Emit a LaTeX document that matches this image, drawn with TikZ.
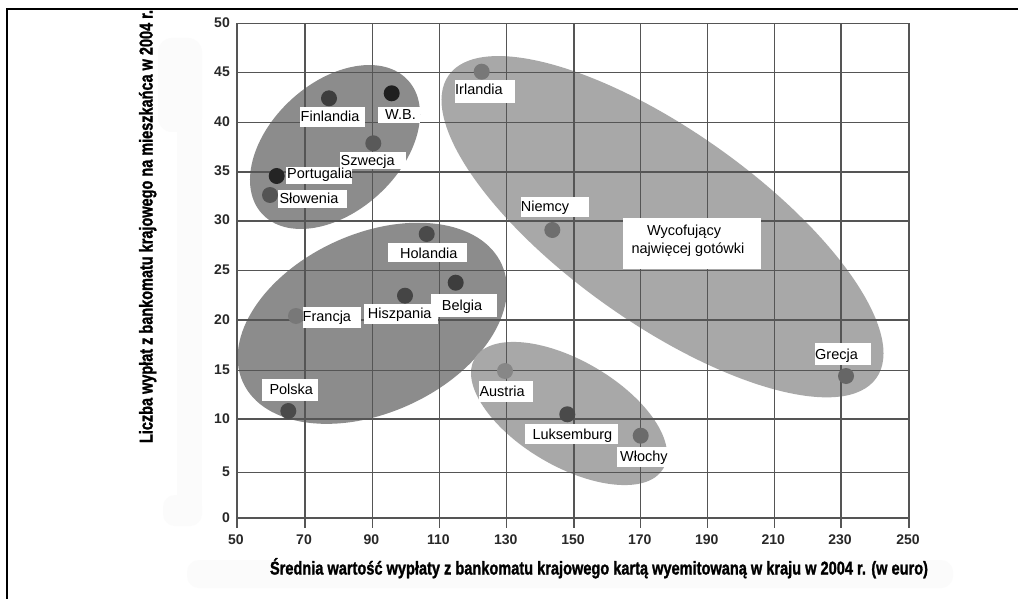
\documentclass[tikz,border=0pt]{standalone}
\usepackage{fontspec}
\setmainfont{Liberation Sans}
\newfontfamily\titlefont[FakeBold=1.6]{Liberation Sans Bold}
\usepackage{graphicx}
\definecolor{darkgrp}{RGB}{140,140,140}
\definecolor{lightgrp}{RGB}{168,168,168}
\definecolor{gridc}{RGB}{85,85,85}
\definecolor{tickc}{RGB}{40,40,40}
\definecolor{haze}{RGB}{251,251,251}
% white label box with its text set from the given base point
\newcommand\countrylabel[8]{%
  \fill[lbox] (#2,#3) rectangle (#4,#5);
  \node[ltxt] (#1) at (#6,#7) {#8};}
\begin{document}
\begin{tikzpicture}[x=1pt,y=-1pt,
  gridline/.style={draw=gridc, line width=1.3pt},
  dot/.style={circle, fill=#1, minimum size=16pt, inner sep=0pt},
  lbox/.style={fill=white},
  ltxt/.style={anchor=base west, inner sep=0pt, font=\fontsize{14.5}{16}\selectfont},
  tick/.style={inner sep=0pt, font=\fontsize{14}{14}\selectfont\bfseries, text=tickc},
  axtitle/.style={inner sep=0pt, font=\fontsize{18.5}{18.5}\selectfont\titlefont},
]
\useasboundingbox (0,0) rectangle (1018,599);
\fill[white] (0,0) rectangle (1018,599);

% faint backdrops behind the axis titles
\fill[haze, rounded corners=14pt] (158,38) rectangle (202,132);
\fill[haze] (177,120) rectangle (202,510);
\fill[haze, rounded corners=12pt] (163,495) rectangle (202,526);
\fill[haze, rounded corners=12pt] (187,560) rectangle (953,588);

% frame
\draw[line width=1.5pt] (7,599) -- (7,9) -- (1018,9);

% country groups
\fill[darkgrp, rotate around={42.4:(335,147)}] (335,147) ellipse [x radius=98.9, y radius=64.5];
\fill[darkgrp, rotate around={24.5:(372.3,323.3)}] (372.3,323.3) ellipse [x radius=142.2, y radius=89.5];
\fill[lightgrp, rotate around={-35.3:(662.5,226.7)}] (662.5,226.7) ellipse [x radius=262, y radius=96.4];
\fill[lightgrp, rotate around={-30.3:(569,413.5)}] (569,413.5) ellipse [x radius=109.2, y radius=52.9];

% grid
\foreach \py in {23.3,72.7,122.3,172,221,270.7,320,370.7,419,472.3,518}
  \draw[gridline] (237,\py) -- (909,\py);
\foreach \px in {237,305,372.3,439.3,506.7,574,640.7,707.7,774.3,841,909}
  \draw[gridline] (\px,23.3) -- (\px,528);

% tick labels
\foreach \v/\py in {0/518,5/472.3,10/419,15/370.7,20/320,25/270.7,30/221,35/172,40/122.3,45/72.7,50/23.3}
  \node[tick, anchor=base east] (ytick\v) at (230,\py+4) {\v};
\foreach \v/\px in {50/237,70/305,90/372.3,110/439.3,130/506.7,150/574,170/640.7,190/707.7,210/774.3,230/841,250/909}
  \node[tick, anchor=base] (xtick\v) at (\px-1,544) {\v};

% axis titles
\node[axtitle, anchor=base, rotate=90] (ytitle) at (152.5,226.5)
  {\resizebox{433pt}{\height}{Liczba wypłat z bankomatu krajowego na mieszkańca w 2004 r.}};
\node[axtitle, anchor=base] (xtitle) at (599,574.5)
  {\resizebox{658pt}{\height}{Średnia wartość wypłaty z bankomatu krajowego kartą wyemitowaną w kraju w 2004 r. (w euro)}};

% countries
\node[dot=black!76] (pFin) at (329,98.3) {};
\node[dot=black!88] (pWB) at (391.7,93.3) {};
\node[dot=black!65] (pSwe) at (373.3,143.3) {};
\node[dot=black!86] (pPor) at (276.7,176) {};
\node[dot=black!67] (pSlo) at (270,195) {};
\node[dot=black!53] (pIrl) at (481.7,71.7) {};
\node[dot=black!71] (pHol) at (426.7,234) {};
\node[dot=black!76] (pBel) at (455.7,282.7) {};
\node[dot=black!73] (pHis) at (405,295.7) {};
\node[dot=black!53] (pFra) at (296,316) {};
\node[dot=black!71] (pPol) at (288.3,411) {};
\node[dot=black!47] (pAus) at (505,371) {};
\node[dot=black!57] (pNie) at (552.3,230) {};
\node[dot=black!71] (pLuk) at (567.3,414.3) {};
\node[dot=black!58] (pWlo) at (640.7,435.7) {};
\node[dot=black!60] (pGre) at (846,376) {};

% labels
\countrylabel{lFin}{300}{106.7}{365}{126.7}{300.5}{121.7}{Finlandia}
\countrylabel{lWB}{378}{107}{420}{122.7}{385}{120}{W.B.}
\countrylabel{lSwe}{340}{152.5}{406}{169.5}{340.5}{166}{Szwecja}
\countrylabel{lPor}{286}{167}{352}{184}{287}{178.5}{Portugalia}
\countrylabel{lSlo}{278.3}{190.5}{346.7}{208.3}{279.3}{204}{Słowenia}
\countrylabel{lIrl}{455}{80}{514.5}{103.3}{455}{95}{Irlandia}
\countrylabel{lNie}{520.7}{196.7}{589}{217.3}{520.7}{211.7}{Niemcy}
\countrylabel{lHol}{388.3}{243.3}{467.3}{261.7}{400}{258.3}{Holandia}
\countrylabel{lBel}{430.5}{294.3}{496.7}{316.7}{441.7}{310}{Belgia}
\countrylabel{lHis}{364.3}{304.3}{438.3}{324.3}{367.7}{318.3}{Hiszpania}
\countrylabel{lFra}{303.3}{306.7}{360.7}{328.3}{302.5}{321}{Francja}
\countrylabel{lPol}{262.3}{379.3}{317.7}{401}{269.3}{394.3}{Polska}
\countrylabel{lAus}{479}{381}{532.7}{401.7}{479.3}{396.7}{Austria}
\countrylabel{lLuk}{525}{424}{618.3}{444}{532.3}{439.3}{Luksemburg}
\countrylabel{lWlo}{617.3}{446.7}{669}{467.3}{620}{461.7}{Włochy}
\countrylabel{lGre}{815}{343.3}{871}{365}{815}{359}{Grecja}

% note on the cash-heavy group
\fill[lbox] (622.7,218.3) rectangle (761,269.3);
\node[ltxt, anchor=base] (wyc1) at (684,235) {Wycofujący};
\node[ltxt, anchor=base] (wyc2) at (688,253) {najwięcej gotówki};
\end{tikzpicture}
\end{document}
